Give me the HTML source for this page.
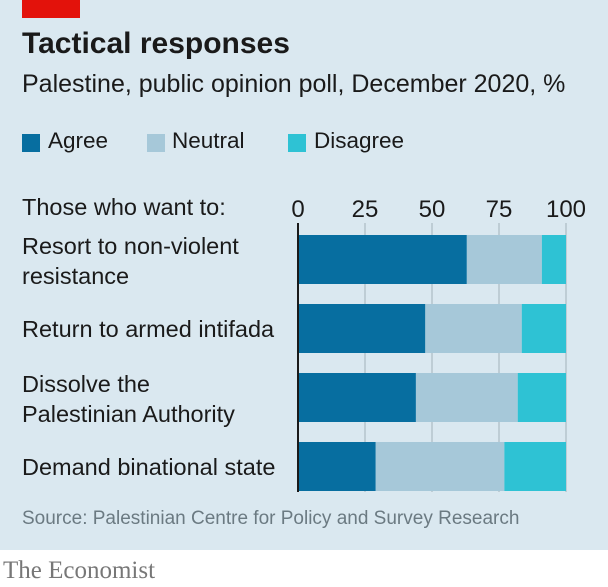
<!DOCTYPE html>
<html><head><meta charset="utf-8"><style>
body{margin:0;width:608px;height:587px;overflow:hidden;background:#fff;font-family:"Liberation Sans",sans-serif}
#bg{position:absolute;left:0;top:0;width:608px;height:550px;background:#dae8f0}
.t{position:absolute;white-space:nowrap;color:#1a1a1a}
</style></head><body>
<div id="bg"></div>
<div style="position:absolute;left:22px;top:0;width:58px;height:18px;background:#e3120b"></div>
<div class="t" style="left:22px;top:27px;font-size:30px;font-weight:bold">Tactical responses</div>
<div class="t" style="left:22px;top:70px;font-size:25px">Palestine, public opinion poll, December 2020, %</div>
<div>
<div style="position:absolute;left:22px;top:134px;width:18px;height:18px;background:#076ea0"></div>
<div class="t" style="left:48px;top:128px;font-size:22.5px">Agree</div>
<div style="position:absolute;left:147px;top:134px;width:18px;height:18px;background:#a6c8d9"></div>
<div class="t" style="left:172px;top:128px;font-size:22.5px">Neutral</div>
<div style="position:absolute;left:288px;top:134px;width:18px;height:18px;background:#2ec2d4"></div>
<div class="t" style="left:314px;top:128px;font-size:22.5px">Disagree</div>
</div>
<div class="t" style="left:22px;top:194px;font-size:23.5px">Those who want to:</div>
<svg id="c" width="608" height="587" style="position:absolute;left:0;top:0"></svg>
<div class="t" style="left:22px;top:508px;font-size:19px;color:#6b7a82">Source: Palestinian Centre for Policy and Survey Research</div>
<div class="t" style="left:3px;top:557px;font-size:25px;font-family:'Liberation Serif',serif;color:#777">The Economist</div>
<script>
const categories=[["Resort to non-violent","resistance"],["Return to armed intifada"],["Dissolve the","Palestinian Authority"],["Demand binational state"]];
const agree=[63,47.5,44,29];
const neutral=[28,36,38,48];
const disagree=[9,16.5,18,23];
const ticks=[0,25,50,75,100];
const colors=["#076ea0","#a6c8d9","#2ec2d4"];
const svg=document.getElementById('c');const NS="http://www.w3.org/2000/svg";
const x0=298,x1=566,xs=v=>x0+(x1-x0)*v/100;
const rowTop=i=>235+i*69, bh=49;
function el(t,a){const e=document.createElementNS(NS,t);for(const k in a)e.setAttribute(k,a[k]);svg.appendChild(e);return e;}
ticks.forEach(t=>{
 if(t>0){const g=el('line',{x1:xs(t),x2:xs(t),y1:223,y2:492,stroke:'#b4c4cc','stroke-width':1.5});
 
 }
 const tx=el('text',{x:xs(t),y:217,'text-anchor':'middle','font-size':24,fill:'#1a1a1a','font-family':'Liberation Sans, sans-serif'});tx.textContent=t;
 
 
});
categories.forEach((c,i)=>{
 const y=rowTop(i);let acc=0;
 [agree[i],neutral[i],disagree[i]].forEach((v,j)=>{
  const r=el('rect',{x:xs(acc),y:y,width:xs(acc+v)-xs(acc),height:bh,fill:colors[j]});
  
  
  acc+=v;
 });
 const ly=c.length===1?y+33:y+19;
 c.forEach((s,k)=>{const t=el('text',{x:22,y:ly+k*30,'font-size':23.5,fill:'#1a1a1a','font-family':'Liberation Sans, sans-serif'});t.textContent=s;
 
 });
});
const ax=el('line',{x1:x0,x2:x0,y1:223,y2:492,stroke:'#1a1a1a','stroke-width':2});


</script>
</body></html>
